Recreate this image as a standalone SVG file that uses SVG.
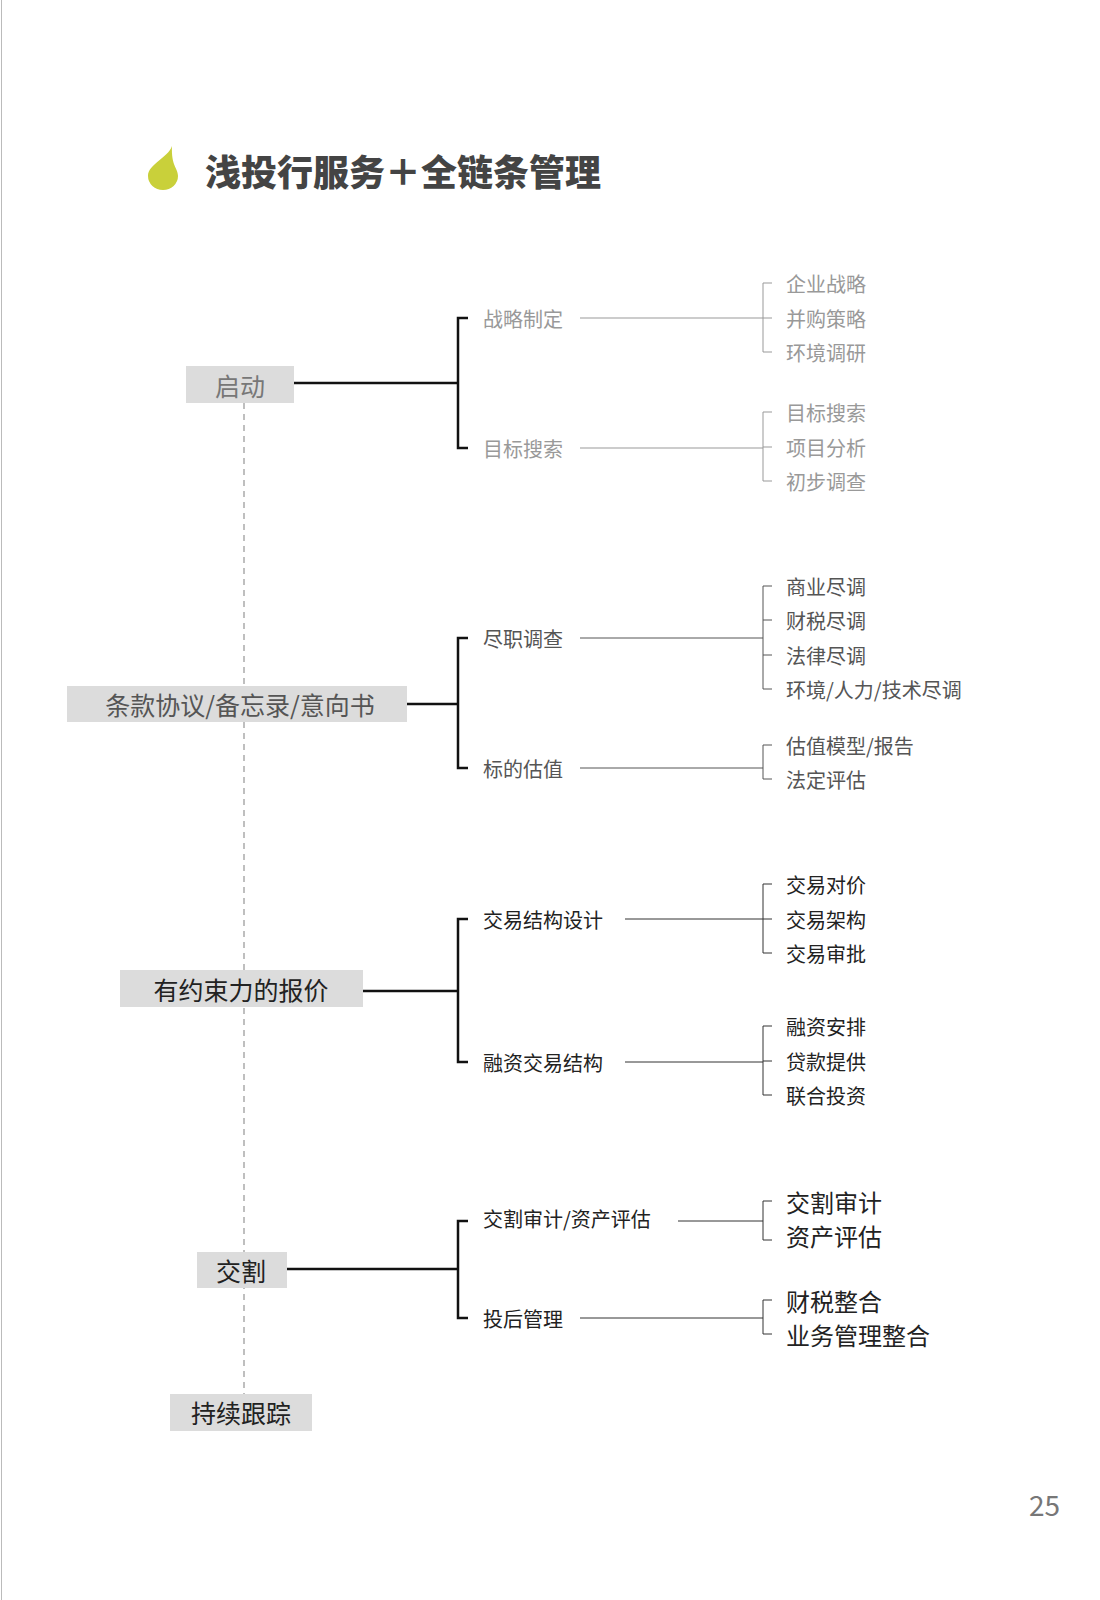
<svg xmlns="http://www.w3.org/2000/svg" width="1100" height="1600" viewBox="0 0 1100 1600">
<style>
text{font-family:"Noto Sans CJK SC","Liberation Sans",sans-serif;dominant-baseline:central}
.box{fill:#dcdcdc}
.main{stroke:#111;stroke-width:2.5;fill:none}
.s1{fill:#999;stroke:#999}.s2{fill:#555;stroke:#555}.s3{fill:#222;stroke:#333}
path.sub{stroke-width:1;fill:none}
text.s1,text.s2,text.s3{stroke:none}
.mid{font-size:20px}.leaf{font-size:20px}
</style>
<rect width="1100" height="1600" fill="#fff"/>
<line x1="1.5" y1="0" x2="1.5" y2="1600" stroke="#bbb"/>
<path d="M172 146 C168 158 148 164 148 176 A15 14 0 0 0 178 176 C178 168 171 166 172 146 Z" fill="#c9d03a"/>
<text x="205" y="170" font-size="36" font-weight="900" fill="#444">浅投行服务＋全链条管理</text>
<line x1="244" y1="403" x2="244" y2="1394" stroke="#aaa" stroke-dasharray="6,5" stroke-width="1.5"/>
<g id="connectors">
<path class="main" d="M294 383H458M468 318H458V448H468"/>
<path class="main" d="M407 704H458M468 638H458V768H468"/>
<path class="main" d="M363 991H458M468 919H458V1062H468"/>
<path class="main" d="M287 1269H458M468 1221H458V1318H468"/>
<path class="sub s1" d="M580 318H763M772 283H763V352H772M763 318H772"/><path class="sub s1" d="M580 448H763M772 412H763V481H772M763 447H772"/>
<path class="sub s2" d="M580 638H763M772 586H763V689H772M763 620H772M763 655H772"/><path class="sub s2" d="M580 768H763M772 745H763V779H772"/>
<path class="sub s3" d="M625 919H763M772 884H763V953H772M763 919H772"/><path class="sub s3" d="M625 1062H763M772 1026H763V1095H772M763 1061H772"/>
<path class="sub s3" d="M678 1221H763M772 1201H763V1240H772"/><path class="sub s3" d="M580 1318H763M772 1300H763V1334H772"/>
</g>
<g id="n-qidong"><rect class="box" x="186" y="366" width="108" height="37"/><text x="240" y="385" font-size="25" fill="#777" text-anchor="middle">启动</text></g>
<g id="n-tiaokuan"><rect class="box" x="67" y="686" width="340" height="36"/><text x="240" y="704" font-size="25" fill="#555" text-anchor="middle">条款协议/备忘录/意向书</text></g>
<g id="n-baojia"><rect class="box" x="120" y="970" width="243" height="37"/><text x="241" y="989" font-size="25" fill="#222" text-anchor="middle">有约束力的报价</text></g>
<g id="n-jiaoge"><rect class="box" x="197" y="1252" width="90" height="36"/><text x="241" y="1270" font-size="25" fill="#222" text-anchor="middle">交割</text></g>
<g id="n-genzong"><rect class="box" x="170" y="1394" width="142" height="37"/><text x="241" y="1412" font-size="25" fill="#222" text-anchor="middle">持续跟踪</text></g>
<g id="s1">
<text class="mid s1" x="483" y="318">战略制定</text><text class="mid s1" x="483" y="448">目标搜索</text>
<text class="leaf s1" x="786" y="283">企业战略</text><text class="leaf s1" x="786" y="318">并购策略</text><text class="leaf s1" x="786" y="352">环境调研</text>
<text class="leaf s1" x="786" y="412">目标搜索</text><text class="leaf s1" x="786" y="447">项目分析</text><text class="leaf s1" x="786" y="481">初步调查</text>
</g>
<g id="s2">
<text class="mid s2" x="483" y="638">尽职调查</text><text class="mid s2" x="483" y="768">标的估值</text>
<text class="leaf s2" x="786" y="586">商业尽调</text><text class="leaf s2" x="786" y="620">财税尽调</text><text class="leaf s2" x="786" y="655">法律尽调</text><text class="leaf s2" x="786" y="689">环境/人力/技术尽调</text>
<text class="leaf s2" x="786" y="745">估值模型/报告</text><text class="leaf s2" x="786" y="779">法定评估</text>
</g>
<g id="s3">
<text class="mid s3" x="483" y="919">交易结构设计</text><text class="mid s3" x="483" y="1062">融资交易结构</text>
<text class="leaf s3" x="786" y="884">交易对价</text><text class="leaf s3" x="786" y="919">交易架构</text><text class="leaf s3" x="786" y="953">交易审批</text>
<text class="leaf s3" x="786" y="1026">融资安排</text><text class="leaf s3" x="786" y="1061">贷款提供</text><text class="leaf s3" x="786" y="1095">联合投资</text>
</g>
<g id="s4">
<text class="mid s3" x="483" y="1218">交割审计/资产评估</text><text class="mid s3" x="483" y="1318">投后管理</text>
<text class="s3" x="786" y="1201" font-size="24">交割审计</text><text class="s3" x="786" y="1235" font-size="24">资产评估</text>
<text class="s3" x="786" y="1300" font-size="24">财税整合</text><text class="s3" x="786" y="1334" font-size="24">业务管理整合</text>
</g>
<text x="1060" y="1504" font-size="28" fill="#777" text-anchor="end" font-family="Liberation Sans,sans-serif">25</text>
</svg>
